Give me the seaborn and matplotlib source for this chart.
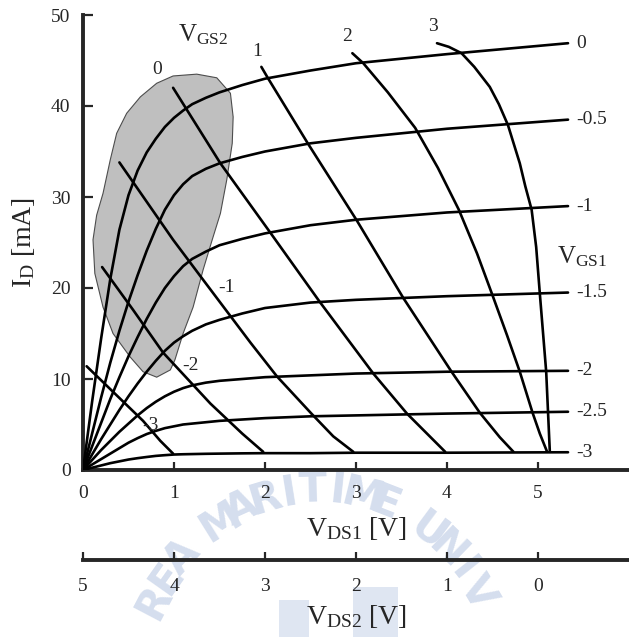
import numpy as np
import pandas as pd
import matplotlib
matplotlib.use('Agg')
import matplotlib.pyplot as plt
from matplotlib.patches import Rectangle
import seaborn as sns

# ---------------------------------------------------------------
# data
# ---------------------------------------------------------------
vgs1_labels = ['0', '-0.5', '-1', '-1.5', '-2', '-2.5', '-3']
vgs1_x = [0, 0.1, 0.2, 0.3, 0.4, 0.5, 0.6, 0.7, 0.8, 0.9, 1.0, 1.1, 1.2, 1.35, 1.5, 1.75,
          2.0, 2.5, 3.0, 4.0, 5.33]
vgs1_0 = [0, 7.5, 14.5, 21.0, 26.4, 30.2, 32.9, 34.9, 36.4, 37.7, 38.7, 39.5, 40.2, 40.9,
          41.5, 42.3, 43.0, 43.9, 44.7, 45.7, 46.9]
vgs1_m05 = [0, 4.0, 8.0, 11.8, 15.3, 18.5, 21.4, 24.1, 26.5, 28.6, 30.2, 31.4, 32.3, 33.1,
            33.7, 34.4, 35.0, 35.9, 36.5, 37.5, 38.5]
vgs1_m1 = [0, 2.6, 5.2, 7.8, 10.2, 12.5, 14.6, 16.6, 18.4, 20.0, 21.3, 22.4, 23.2, 24.0,
           24.7, 25.4, 26.0, 26.9, 27.5, 28.3, 29.0]
vgs1_m15 = [0, 1.7, 3.4, 5.0, 6.6, 8.1, 9.5, 10.8, 12.0, 13.1, 14.0, 14.7, 15.3, 16.0,
            16.5, 17.2, 17.8, 18.4, 18.7, 19.1, 19.5]
vgs1_m2 = [0, 1.1, 2.2, 3.2, 4.2, 5.1, 6.0, 6.8, 7.5, 8.1, 8.6, 9.0, 9.3, 9.6, 9.8, 10.0,
           10.2, 10.4, 10.6, 10.8, 10.9]
vgs1_m25 = [0, 0.6, 1.2, 1.8, 2.4, 3.0, 3.5, 3.95, 4.3, 4.6, 4.8, 5.0, 5.1, 5.25, 5.4, 5.55,
            5.7, 5.9, 6.0, 6.2, 6.4]
vgs1_m3 = [0, 0.25, 0.5, 0.75, 0.95, 1.15, 1.3, 1.43, 1.55, 1.63, 1.7, 1.73, 1.75, 1.78,
           1.8, 1.83, 1.85, 1.85, 1.9, 1.9, 1.95]
vgs1_curves = [vgs1_0, vgs1_m05, vgs1_m1, vgs1_m15, vgs1_m2, vgs1_m25, vgs1_m3]

vgs2_labels = ['-3', '-2', '-1', '0', '1', '2', '3']
vgs2_m3_x = [0.04, 0.35, 0.66, 0.85, 0.99]
vgs2_m3_y = [11.4, 8.4, 5.4, 3.2, 1.8]
vgs2_m2_x = [0.21, 0.55, 0.88, 1.4, 1.75, 1.98]
vgs2_m2_y = [22.3, 17.6, 12.9, 7.3, 4.0, 2.0]
vgs2_m1_x = [0.4, 0.99, 1.32, 1.84, 2.13, 2.51, 2.75, 2.97]
vgs2_m1_y = [33.8, 25.3, 20.9, 14.0, 10.3, 6.2, 3.7, 2.0]
vgs2_0_x = [0.99, 1.51, 2.05, 2.6, 3.19, 3.56, 3.78, 3.98]
vgs2_0_y = [42.0, 33.7, 26.2, 18.5, 10.6, 6.2, 4.0, 2.0]
vgs2_1_x = [1.96, 2.03, 2.47, 3.01, 3.52, 4.05, 4.36, 4.58, 4.73]
vgs2_1_y = [44.3, 43.1, 35.9, 27.4, 18.9, 10.8, 6.3, 3.6, 2.0]
vgs2_2_x = [2.96, 3.08, 3.35, 3.65, 3.90, 4.13, 4.33, 4.50, 4.66, 4.80, 4.94, 5.02, 5.10]
vgs2_2_y = [45.8, 44.7, 41.5, 37.6, 33.2, 28.6, 23.8, 19.2, 14.8, 10.8, 6.3, 4.0, 2.0]
vgs2_3_x = [3.89, 4.02, 4.16, 4.30, 4.47, 4.57, 4.67, 4.80, 4.86, 4.93, 4.98, 5.02, 5.09,
            5.11, 5.13]
vgs2_3_y = [46.9, 46.5, 45.8, 44.3, 42.1, 40.2, 37.9, 33.7, 31.2, 28.6, 24.5, 19.4, 10.8,
            6.4, 2.0]
vgs2_curves = [(vgs2_m3_x, vgs2_m3_y), (vgs2_m2_x, vgs2_m2_y), (vgs2_m1_x, vgs2_m1_y),
               (vgs2_0_x, vgs2_0_y), (vgs2_1_x, vgs2_1_y), (vgs2_2_x, vgs2_2_y),
               (vgs2_3_x, vgs2_3_y)]
# label anchor points for the VGS2 curves
vgs2_lab_x = [0.74, 1.18, 1.58, 0.82, 1.91, 2.90, 3.85]
vgs2_lab_y = [4.9, 11.5, 20.0, 44.0, 46.0, 47.6, 48.7]

# gray operating region
blob_x = [0.99, 1.25, 1.47, 1.62, 1.65, 1.64, 1.58, 1.51, 1.42, 1.32, 1.21, 1.10, 1.01, 0.96,
          0.81, 0.66, 0.52, 0.33, 0.22, 0.13, 0.11, 0.15, 0.22, 0.30, 0.37, 0.48, 0.63, 0.81]
blob_y = [43.3, 43.5, 43.1, 41.4, 38.8, 35.9, 31.9, 28.2, 25.3, 22.0, 17.9, 15.0, 12.1, 11.0,
          10.2, 10.8, 12.4, 15.0, 17.9, 21.6, 25.3, 28.0, 30.4, 34.1, 37.0, 39.2, 41.0, 42.5]

x_ticks = [0, 1, 2, 3, 4, 5]
x2_ticks = [5, 4, 3, 2, 1, 0]
y_ticks = [0, 10, 20, 30, 40, 50]

# long table for seaborn
rows = []
for lab, yy in zip(vgs1_labels, vgs1_curves):
    for xv, yv in zip(vgs1_x, yy):
        rows.append(('g1 ' + lab, xv, yv))
for lab, (xx, yy) in zip(vgs2_labels, vgs2_curves):
    for xv, yv in zip(xx, yy):
        rows.append(('g2 ' + lab, xv, yv))
df = pd.DataFrame(rows, columns=['curve', 'vds', 'id'])

# ---------------------------------------------------------------
# style
# ---------------------------------------------------------------
sns.set_style('ticks')
plt.rcParams['font.family'] = ['Liberation Serif', 'DejaVu Serif']
plt.rcParams['mathtext.fontset'] = 'custom'
plt.rcParams['mathtext.rm'] = 'Liberation Serif'
plt.rcParams['mathtext.it'] = 'Liberation Serif'

fig = plt.figure(figsize=(6.29, 6.37), dpi=100)
ax = fig.add_axes([83 / 629, 167 / 637, 546 / 629, 455 / 637])
ax.patch.set_alpha(0)

# watermark (light blue arc text + emblem behind everything)
wm_col = '#d5deee'
wm = 'KOREA MARITIME UNIVERSITY'
for i, ch in enumerate(wm):
    th = np.deg2rad((i - 10.2) * 7.6)
    px = 318 + 185 * np.sin(th)
    py = 700 - 210 * np.cos(th)
    if ch == ' ' or py > 612 or px < 20 or px > 610:
        continue
    fig.text(px / 629, 1 - py / 637, ch, fontsize=30, fontweight='bold', color=wm_col,
             family='DejaVu Sans', rotation=-np.rad2deg(th),
             ha='center', va='center', zorder=-5)
for (rx, ry, rw, rh) in [(279, 600, 30, 40), (353, 587, 45, 52)]:
    fig.patches.append(Rectangle((rx / 629, 1 - (ry + rh) / 637), rw / 629, rh / 637,
                                 transform=fig.transFigure, facecolor='#dfe6f2',
                                 edgecolor='none', zorder=-6))

ax.fill(blob_x, blob_y, facecolor='#bfbfbf', edgecolor='#4d4d4d', linewidth=0.8, zorder=1)

sns.lineplot(data=df, x='vds', y='id', units='curve', estimator=None, sort=False,
             color='black', linewidth=1.9, ax=ax, zorder=3)

for lab, yy in zip(vgs1_labels, vgs1_curves):
    ax.text(5.42, yy[-1], lab, fontsize=14, ha='left', va='center')
for lab, lx, ly in zip(vgs2_labels, vgs2_lab_x, vgs2_lab_y):
    ax.text(lx, ly, lab, fontsize=14, ha='center', va='center')

ax.text(1.32, 47.8, r'V$_{\mathrm{GS2}}$', fontsize=18, ha='center', va='center')
ax.text(5.49, 23.4, r'V$_{\mathrm{GS1}}$', fontsize=18, ha='center', va='center')

ax.set_xlim(0, 6)
ax.set_ylim(0, 50)
ax.set_xticks(x_ticks)
ax.set_yticks(y_ticks)
ax.tick_params(axis='x', direction='in', length=6, width=1.6, labelsize=14, pad=11)
ax.tick_params(axis='y', direction='in', length=7, width=1.6, labelsize=14, pad=9)
sns.despine(ax=ax)
for s in ['left', 'bottom']:
    ax.spines[s].set_linewidth(2.8)

ax.set_xlabel(r'V$_{\mathrm{DS1}}$ [V]', fontsize=20, labelpad=9)
ax.set_ylabel(r'I$_{\mathrm{D}}$ [mA]', fontsize=20, labelpad=10)

# second (reversed) voltage axis below
sec = ax.secondary_xaxis(-90 / 455, functions=(lambda v: 5 - v, lambda v: 5 - v))
sec.set_xticks(x2_ticks)
sec.tick_params(direction='in', length=6, width=1.6, labelsize=14, pad=13)
sec.spines['bottom'].set_linewidth(2.8)
sec.set_xlabel(r'V$_{\mathrm{DS2}}$ [V]', fontsize=20, labelpad=6)

fig.savefig('out.png', dpi=100)
